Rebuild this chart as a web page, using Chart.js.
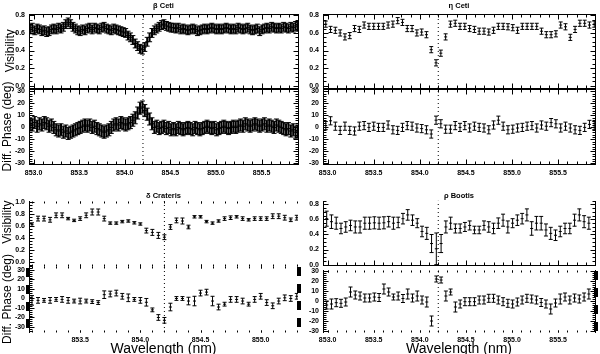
<!DOCTYPE html>
<html>
<head>
<meta charset="utf-8">
<title>Visibility and differential phase</title>
<script src="https://cdn.jsdelivr.net/npm/chart.js@4.4.1/dist/chart.umd.min.js"></script>
<style>
  html, body { margin: 0; padding: 0; background: #fff; }
  body { width: 600px; height: 354px; overflow: hidden; position: relative; }
</style>
</head>
<body>
<script>
// tick labels
const wlTicks = [853.0, 853.5, 854.0, 854.5, 855.0, 855.5];
const wlTicksDelta = [853.5, 854.0, 854.5, 855.0];
const visTicks = [0.0, 0.2, 0.4, 0.6, 0.8];
const visTicksDelta = [0.0, 0.2, 0.4, 0.6, 0.8, 1.0];
const phaseTicks = [-30, -20, -10, 0, 10, 20, 30];
const lineWavelength = 854.2;

// beta Ceti (dense spectral channels)
const betaStart = 852.96, betaStep = 0.02625;
const betaVis = [0.64,0.66,0.63,0.65, 0.64,0.62,0.63,0.61, 0.62,0.64,0.65,0.64, 0.66,0.65,0.67,0.70,
  0.72,0.70,0.67,0.65, 0.63,0.62,0.64,0.63, 0.65,0.66,0.64,0.66, 0.65,0.64,0.66,0.67,
  0.65,0.64,0.63,0.65, 0.64,0.63,0.62,0.61, 0.60,0.57,0.55,0.52, 0.48,0.45,0.42,0.41,
  0.44,0.50,0.55,0.60, 0.63,0.65,0.67,0.69, 0.70,0.68,0.67,0.66, 0.66,0.65,0.66,0.64,
  0.65,0.64,0.63,0.64, 0.65,0.64,0.62,0.63, 0.64,0.65,0.64,0.65, 0.66,0.65,0.64,0.65,
  0.64,0.65,0.66,0.65, 0.64,0.65,0.64,0.66, 0.65,0.64,0.65,0.66, 0.64,0.63,0.64,0.65,
  0.62,0.64,0.65,0.66, 0.65,0.67,0.66,0.65, 0.66,0.65,0.67,0.66, 0.65,0.67,0.66,0.68,0.67];
const betaVisErr = 0.05;
const betaPhase = [3,2,4,1, 3,2,4,3, 1,2,0,-2, -3,-2,-4,-3, -5,-4,-3,-2, -1,0,1,2, 1,2,0,1,
  -1,-2,-3,-4, -3,-2,0,2, 3,2,4,3, 2,3,4,6, 8,12,16,17, 14,11,7,3, 0,1,-1,0, 1,-1,0,-2,
  -1,-2,0,-1, -2,-1,0,-1, -2,0,-1,-2, -1,0,1,0, -1,0,-2,-1, 0,1,0,-1, 0,1,0,1, 2,1,3,2,
  1,2,3,2, 1,2,3,1, 2,1,0,2, 1,0,-1,-2, -1,-3,-2,-4,-3];
const betaPhaseErr = 5;

// eta Ceti
const etaStart = 852.98, etaStep = 0.052;
const etaVis = [0.70,0.64,0.63,0.60,0.555,0.57,0.65,0.64,0.69,0.675,
  0.675,0.675,0.675,0.69,0.70,0.74,0.72,0.65,0.65,0.60,
  0.61,0.58,0.41,0.26,0.37,0.555,0.70,0.71,0.675,0.675,
  0.65,0.64,0.62,0.62,0.61,0.63,0.675,0.675,0.67,0.66,
  0.63,0.675,0.675,0.675,0.675,0.62,0.58,0.58,0.59,0.69,
  0.67,0.55,0.64,0.71,0.71,0.69,0.70];
const etaVisErr = 0.035;
const etaPhase = [1.5,5.5,1,-2.5,1,-2.5,-3,1,1.5,0,
  1,0,0,2,-2,-2.5,0,1.5,1,-0.5,
  -1,-2,-5.5,6,3,-1.5,-1.5,1.5,0,1.5,
  -0.5,1,0,-0.5,-2,2,6,1,-2,-1.5,
  -0.5,0,1,1.5,-0.5,2,1,4,3,-0.5,
  1,-0.5,-2,-2.5,0,2.5,1.5];
const etaPhaseErr = 3.4;

// delta Crateris
const deltaStart = 853.10, deltaStep = 0.05;
const deltaVis = [0.63,0.73,0.73,0.71,0.785,0.785,0.73,0.70,0.73,0.785,
  0.84,0.84,0.73,0.655,0.655,0.68,0.69,0.66,0.64,0.53,
  0.50,0.45,0.42,0.59,0.70,0.69,0.59,0.76,0.76,0.68,
  0.655,0.69,0.73,0.745,0.76,0.73,0.71,0.73,0.73,0.73,
  0.77,0.77,0.745,0.71,0.745];
const deltaVisErr = [0.03,0.04,0.04,0.04,0.04,0.04,0.02,0.02,0.03,0.04,
  0.05,0.05,0.04,0.02,0.02,0.02,0.02,0.02,0.02,0.04,
  0.05,0.05,0.04,0.04,0.04,0.05,0.03,0.02,0.02,0.02,
  0.02,0.02,0.03,0.03,0.02,0.03,0.02,0.03,0.03,0.03,
  0.04,0.04,0.04,0.03,0.04];
const deltaPhase = [-2,-2,-2,-2,-1,-1,-2,-2.7,-2.7,-2.7,
  -3.3,-4.3,4,4.7,5.7,2.3,0.7,-1,-2,-4,
  -12,-20,-23,-9,0,0,-2.7,-2.7,5.7,6.7,
  -2.7,-9,-6,-1,-1,-2.7,-6,-1,2.3,-4.3,
  -7.7,-2.7,0.7,0,2.3];
const deltaPhaseErr = [5,3,2,3,2,3,3,2,3,2,
  2,2,4,3,3,3,4,2,3,4,
  2,3,3,4,2,2,4,5,3,3,
  5,3,2,3,3,3,2,3,3,3,
  3,3,3,3,3];

// rho Bootis
const rhoStart = 852.99, rhoStep = 0.0517;
const rhoVis = [0.61,0.57,0.55,0.48,0.50,0.52,0.50,0.50,0.55,0.55,
  0.555,0.55,0.555,0.57,0.55,0.56,0.61,0.66,0.59,0.55,
  0.44,0.415,0.28,0.21,0.28,0.50,0.55,0.48,0.48,0.50,
  0.52,0.46,0.46,0.52,0.50,0.48,0.55,0.59,0.50,0.55,
  0.59,0.61,0.66,0.48,0.55,0.55,0.46,0.415,0.39,0.44,
  0.48,0.48,0.59,0.66,0.57,0.55];
const rhoVisErr = [0.10,0.09,0.08,0.07,0.07,0.07,0.08,0.08,0.08,0.08,
  0.08,0.08,0.08,0.07,0.08,0.07,0.07,0.07,0.07,0.06,
  0.07,0.08,0.12,0.21,0.12,0.08,0.08,0.06,0.06,0.06,
  0.06,0.05,0.05,0.06,0.07,0.07,0.07,0.08,0.08,0.06,
  0.07,0.07,0.08,0.09,0.09,0.09,0.08,0.08,0.07,0.07,
  0.07,0.07,0.08,0.08,0.08,0.08];
const rhoPhase = [-4,-3,-1.7,-2.3,-1,9,6,5,3,3,
  4,3.5,12,9,4,5,2.5,7,3,5,
  1,-1,-20,22,21,5,9,-6,-3,-0.7,
  -0.7,-0.7,1,1,2.7,2.7,1,-0.7,-2.3,-3,
  -1,1,2.7,2,1,-1.5,-3,-8,-2,2,
  4,1,3,2,4,7];
const rhoPhaseErr = [4,5,4,4,4,5,4,4,4,4,
  4,4,5,4,3,4,4,5,4,5,
  4,5,5,3,3,5,3,5,4,4,
  4,4,4,4,4,4,4,4,4,4,
  4,4,4,4,4,4,4,5,4,5,
  4,4,4,4,4,5];

Chart.defaults.font.family = "'Liberation Sans', Arial, sans-serif";
Chart.defaults.color = '#000';

// wavelength grid of the spectral channels
const grid = (start, step, n) => Array.from({length: n}, (_, i) => +(start + i * step).toFixed(4));

// IDL style frame: axis lines with inward ticks
const idlFrame = {
  id: 'idlFrame',
  afterDatasetsDraw(chart, args, o) {
    const {ctx, chartArea: a} = chart;
    const xs = chart.scales.x, ys = chart.scales.y;
    const L = Math.round(a.left), R = Math.round(a.right), T = Math.round(a.top), B = Math.round(a.bottom);
    const steps = (lo, hi, st) => {
      const out = [];
      for (let k = Math.ceil(lo / st - 1e-9); k * st <= hi + 1e-9; k++) out.push(k * st);
      return out;
    };
    const seg = (x0, y0, x1, y1) => { ctx.beginPath(); ctx.moveTo(x0, y0); ctx.lineTo(x1, y1); ctx.stroke(); };
    ctx.save();
    ctx.strokeStyle = '#000';
    ctx.lineWidth = 1;
    const xMin = steps(xs.min, xs.max, o.xMinor), yMin = steps(ys.min, ys.max, o.yMinor);

    [['top', T, 1], ['bottom', B, -1]].forEach(([side, row, dir]) => {
      const mode = o[side];
      if (!mode || mode === 'none') return;
      const py = row + 0.5;
      if (mode === 'solid') seg(L, py, R + 1, py);
      const big = mode === 'solid' ? 5 : 2, small = mode === 'solid' ? 3 : 2;
      xMin.forEach(v => { const px = Math.round(xs.getPixelForValue(v)) + 0.5; seg(px, py, px, py + dir * small); });
      o.xMajor.forEach(v => { const px = Math.round(xs.getPixelForValue(v)) + 0.5; seg(px, py, px, py + dir * big); });
    });
    [['left', L, 1], ['right', R, -1]].forEach(([side, col, dir]) => {
      const mode = o[side];
      if (!mode || mode === 'none') return;
      const px = col + 0.5;
      if (mode === 'solid') seg(px, T, px, B + 1);
      const big = mode === 'solid' ? 5 : 2, small = mode === 'solid' ? 3 : 2;
      yMin.forEach(v => { const py = Math.round(ys.getPixelForValue(v)) + 0.5; seg(px, py, px + dir * small, py); });
      o.yMajor.forEach(v => { const py = Math.round(ys.getPixelForValue(v)) + 0.5; seg(px, py, px + dir * big, py); });
    });
    ctx.lineWidth = 4;
    ctx.setLineDash([9, 8]);
    if (o.barsLeft) seg(L - 1, T + 2, L - 1, B);
    if (o.barsRight) seg(R + 1, T + 1, R + 1, B);
    ctx.restore();
  }
};

function errorBarSets(wl, val, err, stemWidth, capRadius) {
  const stems = [], caps = [], mids = [];
  wl.forEach((w, i) => {
    const e = Array.isArray(err) ? err[i] : err;
    stems.push({x: w, y: val[i] - e}, {x: w, y: val[i] + e}, {x: w, y: null});
    caps.push({x: w, y: val[i] - e}, {x: w, y: val[i] + e});
    mids.push({x: w, y: val[i]});
  });
  const marks = {showLine: false, pointStyle: 'line', pointBorderColor: '#000', pointBorderWidth: 1};
  return [
    {data: stems, borderColor: '#000', borderWidth: stemWidth, pointRadius: 0, spanGaps: false},
    Object.assign({data: caps, pointRadius: capRadius}, marks),
    Object.assign({data: mids, pointRadius: capRadius - 0.5}, marks),
  ];
}

function addCanvas(left, top, width, height) {
  const c = document.createElement('canvas');
  c.width = width;
  c.height = height;
  c.style.cssText = `position:absolute;left:${left}px;top:${top}px;width:${width}px;height:${height}px`;
  document.body.appendChild(c);
  return c;
}

function subplot(p) {
  const canvas = addCanvas(p.left, p.top, p.width, p.height);
  const datasets = errorBarSets(p.wl, p.val, p.err, p.stem || 1, p.cap || 2);
  datasets.push({
    data: [{x: lineWavelength, y: p.yMin}, {x: lineWavelength, y: p.yMax}],
    borderColor: '#000', borderWidth: 1, borderDash: [1, 3], pointRadius: 0
  });
  const tickFont = {size: 7, weight: 'bold'};
  return new Chart(canvas, {
    type: 'line',
    data: {datasets},
    options: {
      responsive: false,
      animation: false,
      events: [],
      layout: {padding: p.pad},
      plugins: {
        legend: {display: false},
        tooltip: {enabled: false},
        title: p.title
          ? {display: true, text: p.title, fullSize: false, color: '#000', font: {size: 7.5}, padding: p.titlePad}
          : {display: false},
        idlFrame: Object.assign({xMajor: p.xTicks, yMajor: p.yTicks}, p.frame)
      },
      scales: {
        x: {
          type: 'linear',
          min: p.xMin,
          max: p.xMax,
          display: !!p.xLabels,
          afterBuildTicks: s => { s.ticks = p.xTicks.map(v => ({value: v})); },
          afterFit: s => { if (p.xH) s.height = p.xH; },
          grid: {display: false, drawTicks: false},
          border: {display: false},
          ticks: {font: tickFont, color: '#000', padding: p.xPad || 4, maxRotation: 0, autoSkip: false,
                  callback: v => v.toFixed(1)},
          title: p.xTitle
            ? {display: true, text: p.xTitle, color: '#000', font: {size: 14}, padding: {top: 0, bottom: 0}}
            : {display: false}
        },
        y: {
          min: p.yMin,
          max: p.yMax,
          afterBuildTicks: s => { s.ticks = p.yTicks.map(v => ({value: v})); },
          afterFit: s => { s.width = p.yW; },
          grid: {display: false, drawTicks: false},
          border: {display: false},
          ticks: {font: tickFont, color: '#000', padding: 4, autoSkip: false, callback: p.yFmt},
          title: p.yTitle
            ? {display: true, text: p.yTitle, color: '#000', font: {size: 12},
               padding: {top: p.yTitlePad || 0, bottom: 0}, align: p.yTitleAlign || 'center'}
            : {display: false}
        }
      }
    },
    plugins: [idlFrame]
  });
}

const visFmt = v => v.toFixed(1);
const phaseFmt = v => String(v);
const boxed = {top: 'solid', bottom: 'solid', left: 'solid', right: 'solid', xMinor: 0.1};

const betaWl = grid(betaStart, betaStep, betaVis.length);
const etaWl = grid(etaStart, etaStep, etaVis.length);
const deltaWl = grid(deltaStart, deltaStep, deltaVis.length);
const rhoWl = grid(rhoStart, rhoStep, rhoVis.length);

// beta Ceti
subplot({left: 0, top: 0, width: 303, height: 97, pad: {top: 0, right: 2, bottom: 9, left: 0}, yW: 29,
  title: '\u03b2 Ceti', titlePad: {top: 1, bottom: 3.6}, stem: 2, cap: 2.5,
  wl: betaWl, val: betaVis, err: betaVisErr, xMin: 852.95, xMax: 855.90, xTicks: wlTicks,
  yMin: -0.026, yMax: 0.82, yTicks: visTicks, yFmt: visFmt, yTitle: 'Visibility', yTitlePad: 3,
  frame: Object.assign({yMinor: 0.05}, boxed)});
subplot({left: 0, top: 80, width: 303, height: 100, pad: {top: 9, right: 2, bottom: 0, left: 0}, yW: 29,
  stem: 2, cap: 2.5,
  wl: betaWl, val: betaPhase, err: betaPhaseErr, xMin: 852.95, xMax: 855.90, xTicks: wlTicks,
  xLabels: true, xH: 16, xPad: 5,
  yMin: -30.5, yMax: 32, yTicks: phaseTicks, yFmt: phaseFmt, yTitle: 'Diff. Phase (deg)',
  frame: Object.assign({yMinor: 2}, boxed)});

// eta Ceti
subplot({left: 300, top: 0, width: 300, height: 97, pad: {top: 0, right: 3, bottom: 9, left: 0}, yW: 23,
  title: '\u03b7 Ceti', titlePad: {top: 1, bottom: 3.6},
  wl: etaWl, val: etaVis, err: etaVisErr, xMin: 852.95, xMax: 855.90, xTicks: wlTicks,
  yMin: -0.026, yMax: 0.82, yTicks: visTicks, yFmt: visFmt,
  frame: Object.assign({yMinor: 0.05}, boxed)});
subplot({left: 300, top: 80, width: 300, height: 100, pad: {top: 9, right: 3, bottom: 0, left: 0}, yW: 23,
  wl: etaWl, val: etaPhase, err: etaPhaseErr, xMin: 852.95, xMax: 855.90, xTicks: wlTicks,
  xLabels: true, xH: 16, xPad: 5,
  yMin: -30.5, yMax: 32, yTicks: phaseTicks, yFmt: phaseFmt,
  frame: Object.assign({yMinor: 2}, boxed)});

// delta Crateris
subplot({left: 0, top: 188, width: 303, height: 87, pad: {top: 0, right: 2, bottom: 9, left: 0}, yW: 29,
  title: '\u03b4 Crateris', titlePad: {top: 3.6, bottom: 0},
  wl: deltaWl, val: deltaVis, err: deltaVisErr, xMin: 853.075, xMax: 855.31, xTicks: wlTicksDelta,
  yMin: -0.06, yMax: 1.03, yTicks: visTicksDelta, yFmt: visFmt, yTitle: 'Visibility', yTitleAlign: 'end',
  frame: {top: 'ticks', bottom: 'ticks', left: 'solid', right: 'none', xMinor: 0.1, yMinor: 0.05}});
subplot({left: 0, top: 248, width: 303, height: 110, pad: {top: 18, right: 2, bottom: 0, left: 0}, yW: 29,
  wl: deltaWl, val: deltaPhase, err: deltaPhaseErr, xMin: 853.075, xMax: 855.31, xTicks: wlTicksDelta,
  xLabels: true, xH: 26, xPad: 4, xTitle: 'Wavelength (nm)',
  yMin: -35.3, yMax: 34.2, yTicks: phaseTicks, yFmt: phaseFmt, yTitle: 'Diff. Phase (deg)',
  frame: {top: 'ticks', bottom: 'ticks', left: 'solid', right: 'none', xMinor: 0.1, yMinor: 2,
          barsLeft: true, barsRight: true}});

// rho Bootis
subplot({left: 300, top: 188, width: 300, height: 86, pad: {top: 0, right: 3, bottom: 9, left: 0}, yW: 23,
  title: '\u03c1 Bootis', titlePad: {top: 3.6, bottom: 0},
  wl: rhoWl, val: rhoVis, err: rhoVisErr, xMin: 852.95, xMax: 855.90, xTicks: wlTicks,
  yMin: -0.005, yMax: 0.85, yTicks: visTicks, yFmt: visFmt,
  frame: {top: 'none', bottom: 'solid', left: 'solid', right: 'solid', xMinor: 0.1, yMinor: 0.05}});
subplot({left: 300, top: 258, width: 300, height: 100, pad: {top: 12, right: 3, bottom: 0, left: 0}, yW: 23,
  wl: rhoWl, val: rhoPhase, err: rhoPhaseErr, xMin: 852.95, xMax: 855.90, xTicks: wlTicks,
  xLabels: true, xH: 26, xPad: 4, xTitle: 'Wavelength (nm)',
  yMin: -31, yMax: 31, yTicks: phaseTicks, yFmt: phaseFmt,
  frame: {top: 'ticks', bottom: 'ticks', left: 'solid', right: 'solid', xMinor: 0.1, yMinor: 2,
          barsRight: true}});
</script>
</body>
</html>
